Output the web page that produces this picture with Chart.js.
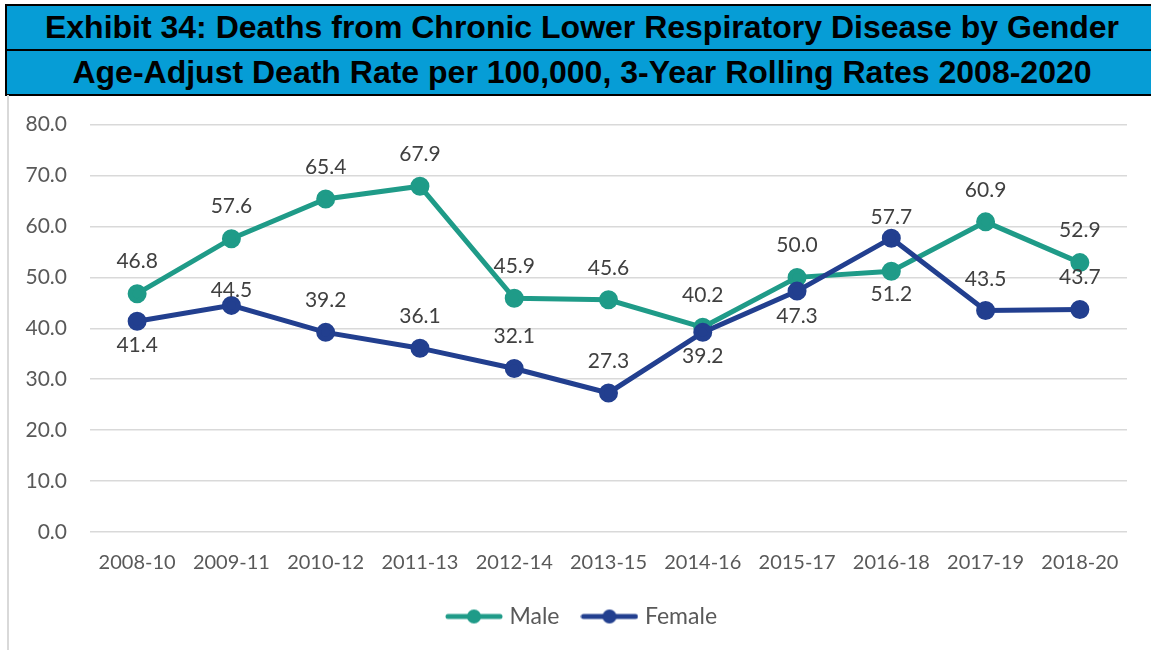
<!DOCTYPE html>
<html>
<head>
<meta charset="utf-8">
<script src="https://cdn.jsdelivr.net/npm/chart.js@4.4.1/dist/chart.umd.min.js"></script>
<style>
  html, body { margin: 0; padding: 0; background: #fff; overflow: hidden; }
  .titlebox {
    position: absolute; left: 5px; top: 4px; width: 1150px;
    border: 2px solid #000; border-right: none; background: #069dd6;
    font-family: "Liberation Sans", Arial, sans-serif; font-weight: bold;
    font-size: 32px; color: #000; text-align: center;
  }
  .titlebox div { height: 43px; line-height: 43px; }
  .titlebox div + div { border-top: 2px solid #000; }
  .frame {
    position: absolute; left: 7px; top: 95px; width: 1150px; height: 560px;
    border-left: 2px solid #d9d9d9;
  }
  #chart { position: absolute; left: 9px; top: 89px; }
</style>
</head>
<body>
<div class="titlebox">
  <div>Exhibit 34: Deaths from Chronic Lower Respiratory Disease by Gender</div>
  <div>Age-Adjust Death Rate per 100,000, 3-Year Rolling Rates 2008-2020</div>
</div>
<div class="frame"></div>
<canvas id="chart" width="1142" height="561"></canvas>
<script>
var periods = ['2008-10', '2009-11', '2010-12', '2011-13', '2012-14', '2013-15', '2014-16', '2015-17', '2016-18', '2017-19', '2018-20'];
var maleRates = [46.8, 57.6, 65.4, 67.9, 45.9, 45.6, 40.2, 50.0, 51.2, 60.9, 52.9];
var femaleRates = [41.4, 44.5, 39.2, 36.1, 32.1, 27.3, 39.2, 47.3, 57.7, 43.5, 43.7];
var yMin = 0, yMax = 80, yStep = 10;

// vertical nudge of each value label from its point (negative = above)
var labelShift = [
    [-32, -32, -32, -32, -32, -32, -32, -32, 23, -32, -32],
    [24, -15, -32, -32, -32, -32, 24, 25, -21, -31, -32]
];

var maleColor = '#1f9b88';
var femaleColor = '#223f8f';
var fontFamily = 'Lato, "Open Sans", sans-serif';
var fontSize = 21;

function legendMarker(color) {
    var c = document.createElement('canvas');
    c.width = 58; c.height = 16;
    var g = c.getContext('2d');
    g.strokeStyle = color;
    g.lineWidth = 5;
    g.lineCap = 'round';
    g.beginPath(); g.moveTo(3, 8); g.lineTo(55, 8); g.stroke();
    g.fillStyle = color;
    g.beginPath(); g.arc(29, 8, 7, 0, Math.PI * 2); g.fill();
    return c;
}

var pointLabels = {
    id: 'pointLabels',
    afterLayout: function (chart) {
        // centre the legend under the whole frame rather than the padded canvas
        chart.legend.left += 15.5;
        chart.legend.right += 15.5;
    },
    afterDatasetsDraw: function (chart) {
        var ctx = chart.ctx;
        ctx.save();
        ctx.font = fontSize + 'px ' + fontFamily;
        ctx.fillStyle = '#404040';
        ctx.textAlign = 'center';
        ctx.textBaseline = 'middle';
        chart.data.datasets.forEach(function (ds, i) {
            chart.getDatasetMeta(i).data.forEach(function (pt, j) {
                ctx.fillText(ds.data[j].toFixed(1), pt.x, pt.y + labelShift[i][j]);
            });
        });
        ctx.restore();
    }
};

document.addEventListener('DOMContentLoaded', function () {
    var ctx = document.getElementById('chart').getContext('2d');
    var markers = [legendMarker(maleColor), legendMarker(femaleColor)];
    var chart = new Chart(ctx, {
        type: 'line',
        data: {
            labels: periods,
            datasets: [{
                label: 'Male',
                data: maleRates,
                borderColor: maleColor,
                backgroundColor: maleColor,
                borderWidth: 5,
                pointRadius: 7,
                pointHoverRadius: 7,
                order: 1
            }, {
                label: 'Female',
                data: femaleRates,
                borderColor: femaleColor,
                backgroundColor: femaleColor,
                borderWidth: 5,
                pointRadius: 7,
                pointHoverRadius: 7,
                order: 0
            }]
        },
        options: {
            responsive: false,
            animation: false,
            layout: { padding: { left: 0, right: 24, top: 18, bottom: 12 } },
            scales: {
                x: {
                    offset: true,
                    grid: { display: false },
                    border: { display: false },
                    ticks: {
                        color: '#595959',
                        font: { family: fontFamily, size: 20 },
                        padding: 11,
                        maxRotation: 0
                    },
                    afterFit: function (scale) { scale.height = 47; }
                },
                y: {
                    min: yMin,
                    max: yMax,
                    grid: { color: '#d9d9d9', lineWidth: 1.5, drawTicks: false },
                    border: { display: false },
                    ticks: {
                        stepSize: yStep,
                        color: '#595959',
                        font: { family: fontFamily, size: fontSize },
                        padding: 23,
                        callback: function (v) { return v.toFixed(1); }
                    },
                    afterFit: function (scale) { scale.width = 81; }
                }
            },
            plugins: {
                tooltip: { enabled: false },
                legend: {
                    position: 'bottom',
                    labels: {
                        usePointStyle: true,
                        pointStyleWidth: 48,
                        padding: 26,
                        color: '#595959',
                        font: { family: fontFamily, size: 23 },
                        generateLabels: function (c) {
                            return c.data.datasets.map(function (ds, i) {
                                return {
                                    text: ds.label,
                                    fillStyle: ds.backgroundColor,
                                    strokeStyle: ds.borderColor,
                                    lineWidth: 0,
                                    pointStyle: markers[i],
                                    fontColor: '#595959',
                                    hidden: false,
                                    datasetIndex: i
                                };
                            });
                        }
                    }
                }
            }
        },
        plugins: [pointLabels]
    });
});
</script>
</body>
</html>
